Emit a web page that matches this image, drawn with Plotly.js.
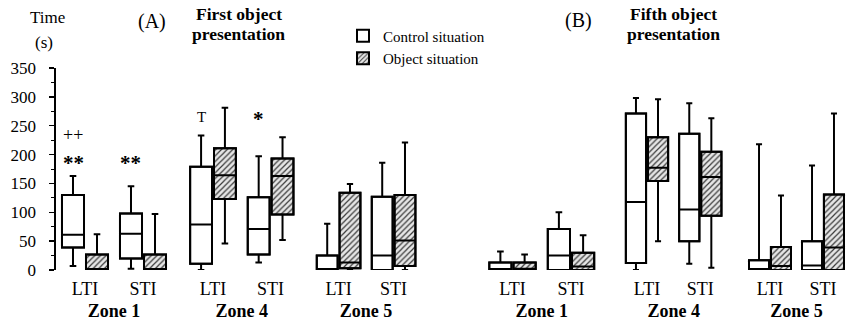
<!DOCTYPE html>
<html><head><meta charset="utf-8">
<script src="https://cdn.plot.ly/plotly-3.0.1.min.js"></script>
<style>body{margin:0;background:#fff}#chart{width:850px;height:322px}</style>
</head><body><div id="chart"></div>
<script>
// ---- data (seconds) ; each zone: [LTI, STI] ----
const zoneNames = ['Zone 1','Zone 4','Zone 5','Zone 1','Zone 4','Zone 5'];
const groups = ['LTI','STI'];
const seriesNames = ['Control situation','Object situation'];

// Control situation
const ctrlLower  = [[7,2],[0,13],[0,0],[0,0],[0,11],[0,0]];
const ctrlQ1     = [[39,20],[11,27],[0,0],[0,0],[12,50],[0,0]];
const ctrlMedian = [[61,63],[79,71],[0,25],[0,25],[118,105],[0,8]];
const ctrlQ3     = [[130,98],[179,126],[25,127],[13,71],[271,236],[17,50]];
const ctrlUpper  = [[163,145],[233,197],[80,186],[32,100],[298,289],[218,181]];

// Object situation
const objLower   = [[0,0],[46,52],[0,0],[0,0],[50,4],[0,0]];
const objQ1      = [[0,0],[123,96],[3,7],[0,0],[154,94],[0,0]];
const objMedian  = [[1,1],[164,163],[13,51],[2,6],[177,161],[7,39]];
const objQ3      = [[27,27],[211,193],[134,130],[13,30],[230,205],[40,131]];
const objUpper   = [[62,97],[281,230],[149,221],[27,60],[296,263],[129,271]];

// significance marks: [zone index, group, series, value, text]
const marks = [[0,'LTI',0,234,'++'],[0,'LTI',0,186,'**'],[0,'STI',0,186,'**'],[1,'LTI',0,265,'T'],[1,'STI',0,261,'*']];

// ---- layout helpers ----
const FONT = 'Liberation Serif';
const domains = [[0.00998,0.15461],[0.16983,0.31347],[0.32805,0.46521],[0.54271,0.68859],[0.71365,0.84657],[0.86721,0.99938]];

const traces = [];
const layout = {
  width:850, height:322,
  margin:{l:48,r:0,t:68,b:52},
  paper_bgcolor:'white', plot_bgcolor:'white',
  font:{family:FONT, color:'black', size:17},
  showlegend:true,
  legend:{x:0.3678, y:1.24, xanchor:'left', yanchor:'top', font:{family:FONT,size:15,color:'black'},
          bgcolor:'rgba(0,0,0,0)', borderwidth:0, itemwidth:30, tracegroupgap:0},
  barmode:'group', bargap:0.172, bargroupgap:0.083,
  boxmode:'group', boxgap:0.172, boxgroupgap:0.083,
  xaxis:{domain:[0,1], range:[0,1], showline:true, linewidth:2.5, linecolor:'black',
         showticklabels:false, ticks:'', showgrid:false, zeroline:false, fixedrange:true},
  yaxis:{anchor:'x', range:[0,350], showline:true, linewidth:2.5, linecolor:'black',
         ticks:'outside', ticklen:5, tickwidth:1.5, tickcolor:'black', tick0:0, dtick:50,
         ticklabelstandoff:9,
         showgrid:false, zeroline:false, tickfont:{family:FONT,size:17,color:'black'},
         minor:{dtick:25, ticks:'outside', ticklen:3, tickwidth:1, tickcolor:'black'}},
  annotations:[]
};

zoneNames.forEach((zn,i)=>{
  const ax = 'x'+(i+2);
  layout['xaxis'+(i+2)] = {
    domain:domains[i], anchor:'y', type:'category', range:[-0.5,1.5],
    showline:false, ticks:'', showgrid:false, zeroline:false, ticklabelstandoff:6,
    tickfont:{family:FONT,size:18,color:'black'},
    title:{text:'<b>'+zn+'</b>', font:{family:FONT,size:18,color:'black'}, standoff:6}
  };
  const sets = [
    {lo:ctrlLower[i],q1:ctrlQ1[i],md:ctrlMedian[i],q3:ctrlQ3[i],up:ctrlUpper[i],og:'c',
     marker:{color:'white', line:{color:'black',width:2}}},
    {lo:objLower[i],q1:objQ1[i],md:objMedian[i],q3:objQ3[i],up:objUpper[i],og:'o',
     marker:{color:'#e6e6e6', line:{color:'black',width:2},
             pattern:{shape:'/', fgcolor:'#3a3a3a', bgcolor:'#e6e6e6', size:4, solidity:0.3}}}
  ];
  sets.forEach((s,k)=>{
    traces.push({type:'bar', x:groups, base:s.q1, y:s.q3.map((v,j)=>v-s.q1[j]),
      xaxis:ax, yaxis:'y', offsetgroup:s.og, marker:s.marker,
      name:seriesNames[k], legendgroup:s.og, showlegend:i===0, hoverinfo:'skip'});
  });
  sets.forEach((s,k)=>{
    traces.push({type:'box', x:groups, q1:s.q1, median:s.md, q3:s.q3,
      lowerfence:s.lo, upperfence:s.up, boxpoints:false,
      xaxis:ax, yaxis:'y', offsetgroup:s.og, fillcolor:'rgba(0,0,0,0)',
      line:{color:'black',width:2}, whiskerwidth:0.3,
      name:seriesNames[k], legendgroup:s.og, showlegend:false, hoverinfo:'skip'});
  });
});

marks.forEach(m=>{
  const star = m[4].indexOf('*') >= 0;
  layout.annotations.push({xref:'x'+(m[0]+2), yref:'y', x:m[1], y:m[3],
    text: star ? '<b>'+m[4]+'</b>' : m[4],
    xshift:m[2]===0?-12:12, showarrow:false,
    font:{family:FONT, size:m[4]==='T'?15:(m[4]==='++'?18:21), color:'black'}});
});

const P = (px)=> (px-48)/802, Q = (py)=> (270-py)/202;
const txt = [
  ['Time',47,17,17,false],['(s)',44,43,17,false],['(A)',152,21,20,false],
  ['First object',238.5,13.5,17.5,true],['presentation',238.5,34,17.5,true],
  ['(B)',578,20,20,false],['Fifth object',673,13.5,17.5,true],['presentation',673,34,17.5,true]
];
txt.forEach(t=>{
  layout.annotations.push({xref:'paper', yref:'paper', x:P(t[1]), y:Q(t[2]),
    xanchor:'center', yanchor:'middle', showarrow:false,
    text: t[4] ? '<b>'+t[0]+'</b>' : t[0],
    font:{family:FONT,size:t[3],color:'black'}});
});

Plotly.newPlot('chart', traces, layout, {staticPlot:true, displayModeBar:false});
</script></body></html>
